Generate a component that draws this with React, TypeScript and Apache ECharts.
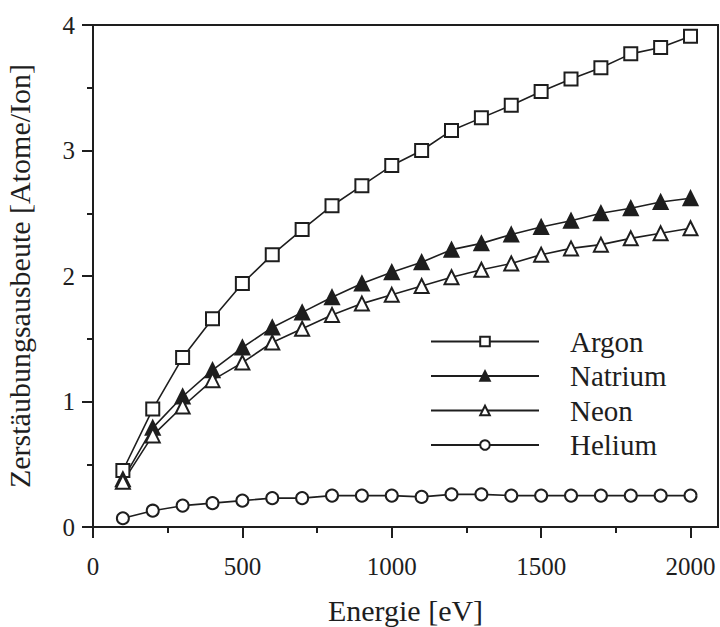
import React, { useEffect, useRef } from "react";
import * as echarts from "echarts";

const energies = [100, 200, 300, 400, 500, 600, 700, 800, 900, 1000, 1100, 1200, 1300, 1400, 1500, 1600, 1700, 1800, 1900, 2000];
const argon = [0.45, 0.94, 1.35, 1.66, 1.94, 2.17, 2.37, 2.56, 2.72, 2.88, 3.0, 3.16, 3.26, 3.36, 3.47, 3.57, 3.66, 3.77, 3.82, 3.91];
const natrium = [0.38, 0.79, 1.04, 1.25, 1.43, 1.59, 1.71, 1.83, 1.94, 2.03, 2.11, 2.21, 2.26, 2.33, 2.39, 2.44, 2.5, 2.54, 2.59, 2.62];
const neon = [0.36, 0.73, 0.96, 1.17, 1.31, 1.47, 1.58, 1.69, 1.78, 1.85, 1.92, 1.99, 2.05, 2.1, 2.17, 2.22, 2.25, 2.3, 2.34, 2.38];
const helium = [0.07, 0.13, 0.17, 0.19, 0.21, 0.23, 0.23, 0.25, 0.25, 0.25, 0.24, 0.26, 0.26, 0.25, 0.25, 0.25, 0.25, 0.25, 0.25, 0.25];
const xMajorTicks = [0, 500, 1000, 1500, 2000];
const xMinorTicks = [250, 750, 1250, 1750];

const INK = "#1e1e1e";
const FONT = "Liberation Serif";

function pairs(ys: number[]) {
  return energies.map((e, i) => [e, ys[i]]);
}

export default function App() {
  const ref = useRef<HTMLDivElement>(null);
  useEffect(() => {
    if (!ref.current) return;
    const chart = echarts.init(ref.current, null, { renderer: "svg" });
    const mk = (name: string, ys: number[], symbol: string, size: number, filled: boolean) => ({
      name,
      type: "line",
      data: pairs(ys),
      symbol,
      symbolSize: size,
      showAllSymbol: true,
      lineStyle: { color: INK, width: 1.6 },
      itemStyle: { color: filled ? INK : "#fff", borderColor: INK, borderWidth: 2 },
      emphasis: { disabled: true },
      z: 3,
    });
    chart.setOption({
      animation: false,
      backgroundColor: "#fff",
      textStyle: { fontFamily: FONT },
      grid: {
        left: 93,
        top: 25,
        right: 2,
        bottom: 100,
        show: true,
        borderColor: INK,
        borderWidth: 2,
        containLabel: false,
        outerBoundsMode: "none",
      },
      legend: {
        orient: "vertical",
        left: 425,
        top: 322,
        itemWidth: 108,
        itemHeight: 12,
        itemGap: 5.5,
        selectedMode: false,
        data: ["Argon", "Natrium", "Neon", "Helium"],
        textStyle: { fontFamily: FONT, fontSize: 29, color: INK, lineHeight: 29, padding: [0, 0, 0, 26] },
      },
      xAxis: [
        {
          type: "value",
          min: 0,
          max: 2092,
          interval: 500,
          name: "Energie [eV]",
          nameLocation: "middle",
          nameGap: 68,
          nameTextStyle: { fontFamily: FONT, fontSize: 30, color: INK },
          splitLine: { show: false },
          axisLine: { show: true, lineStyle: { color: INK, width: 2 } },
          axisTick: { show: true, length: 11, customValues: xMajorTicks, lineStyle: { color: INK, width: 2 } },
          axisLabel: {
            customValues: xMajorTicks,
            margin: 27,
            fontFamily: FONT,
            fontSize: 25,
            color: INK,
            formatter: (v: number) => (v % 500 === 0 && v <= 2000 ? String(v) : ""),
          },
        },
        {
          type: "value",
          position: "bottom",
          min: 0,
          max: 2092,
          interval: 500,
          splitLine: { show: false },
          axisLine: { show: false },
          axisTick: { show: true, length: 6, customValues: xMinorTicks, lineStyle: { color: INK, width: 2 } },
          axisLabel: { show: false },
        },
      ],
      yAxis: {
        type: "value",
        min: 0,
        max: 4,
        interval: 1,
        name: "Zerstäubungsausbeute [Atome/Ion]",
        nameLocation: "middle",
        nameGap: 59,
        nameTextStyle: { fontFamily: FONT, fontSize: 30, color: INK },
        splitLine: { show: false },
        axisLine: { show: true, lineStyle: { color: INK, width: 2 } },
        axisTick: { show: true, length: 11, lineStyle: { color: INK, width: 2 } },
        minorTick: { show: true, splitNumber: 2, length: 6, lineStyle: { color: INK, width: 2 } },
        axisLabel: { margin: 18, fontFamily: FONT, fontSize: 25, color: INK },
      },
      series: [
        mk("Argon", argon, "rect", 13, false),
        mk("Natrium", natrium, "triangle", 14, true),
        mk("Neon", neon, "triangle", 14, false),
        mk("Helium", helium, "circle", 12, false),
      ],
    });
    return () => chart.dispose();
  }, []);
  return <div ref={ref} style={{ position: "absolute", left: 0, top: 0, width: 720, height: 627 }} />;
}
